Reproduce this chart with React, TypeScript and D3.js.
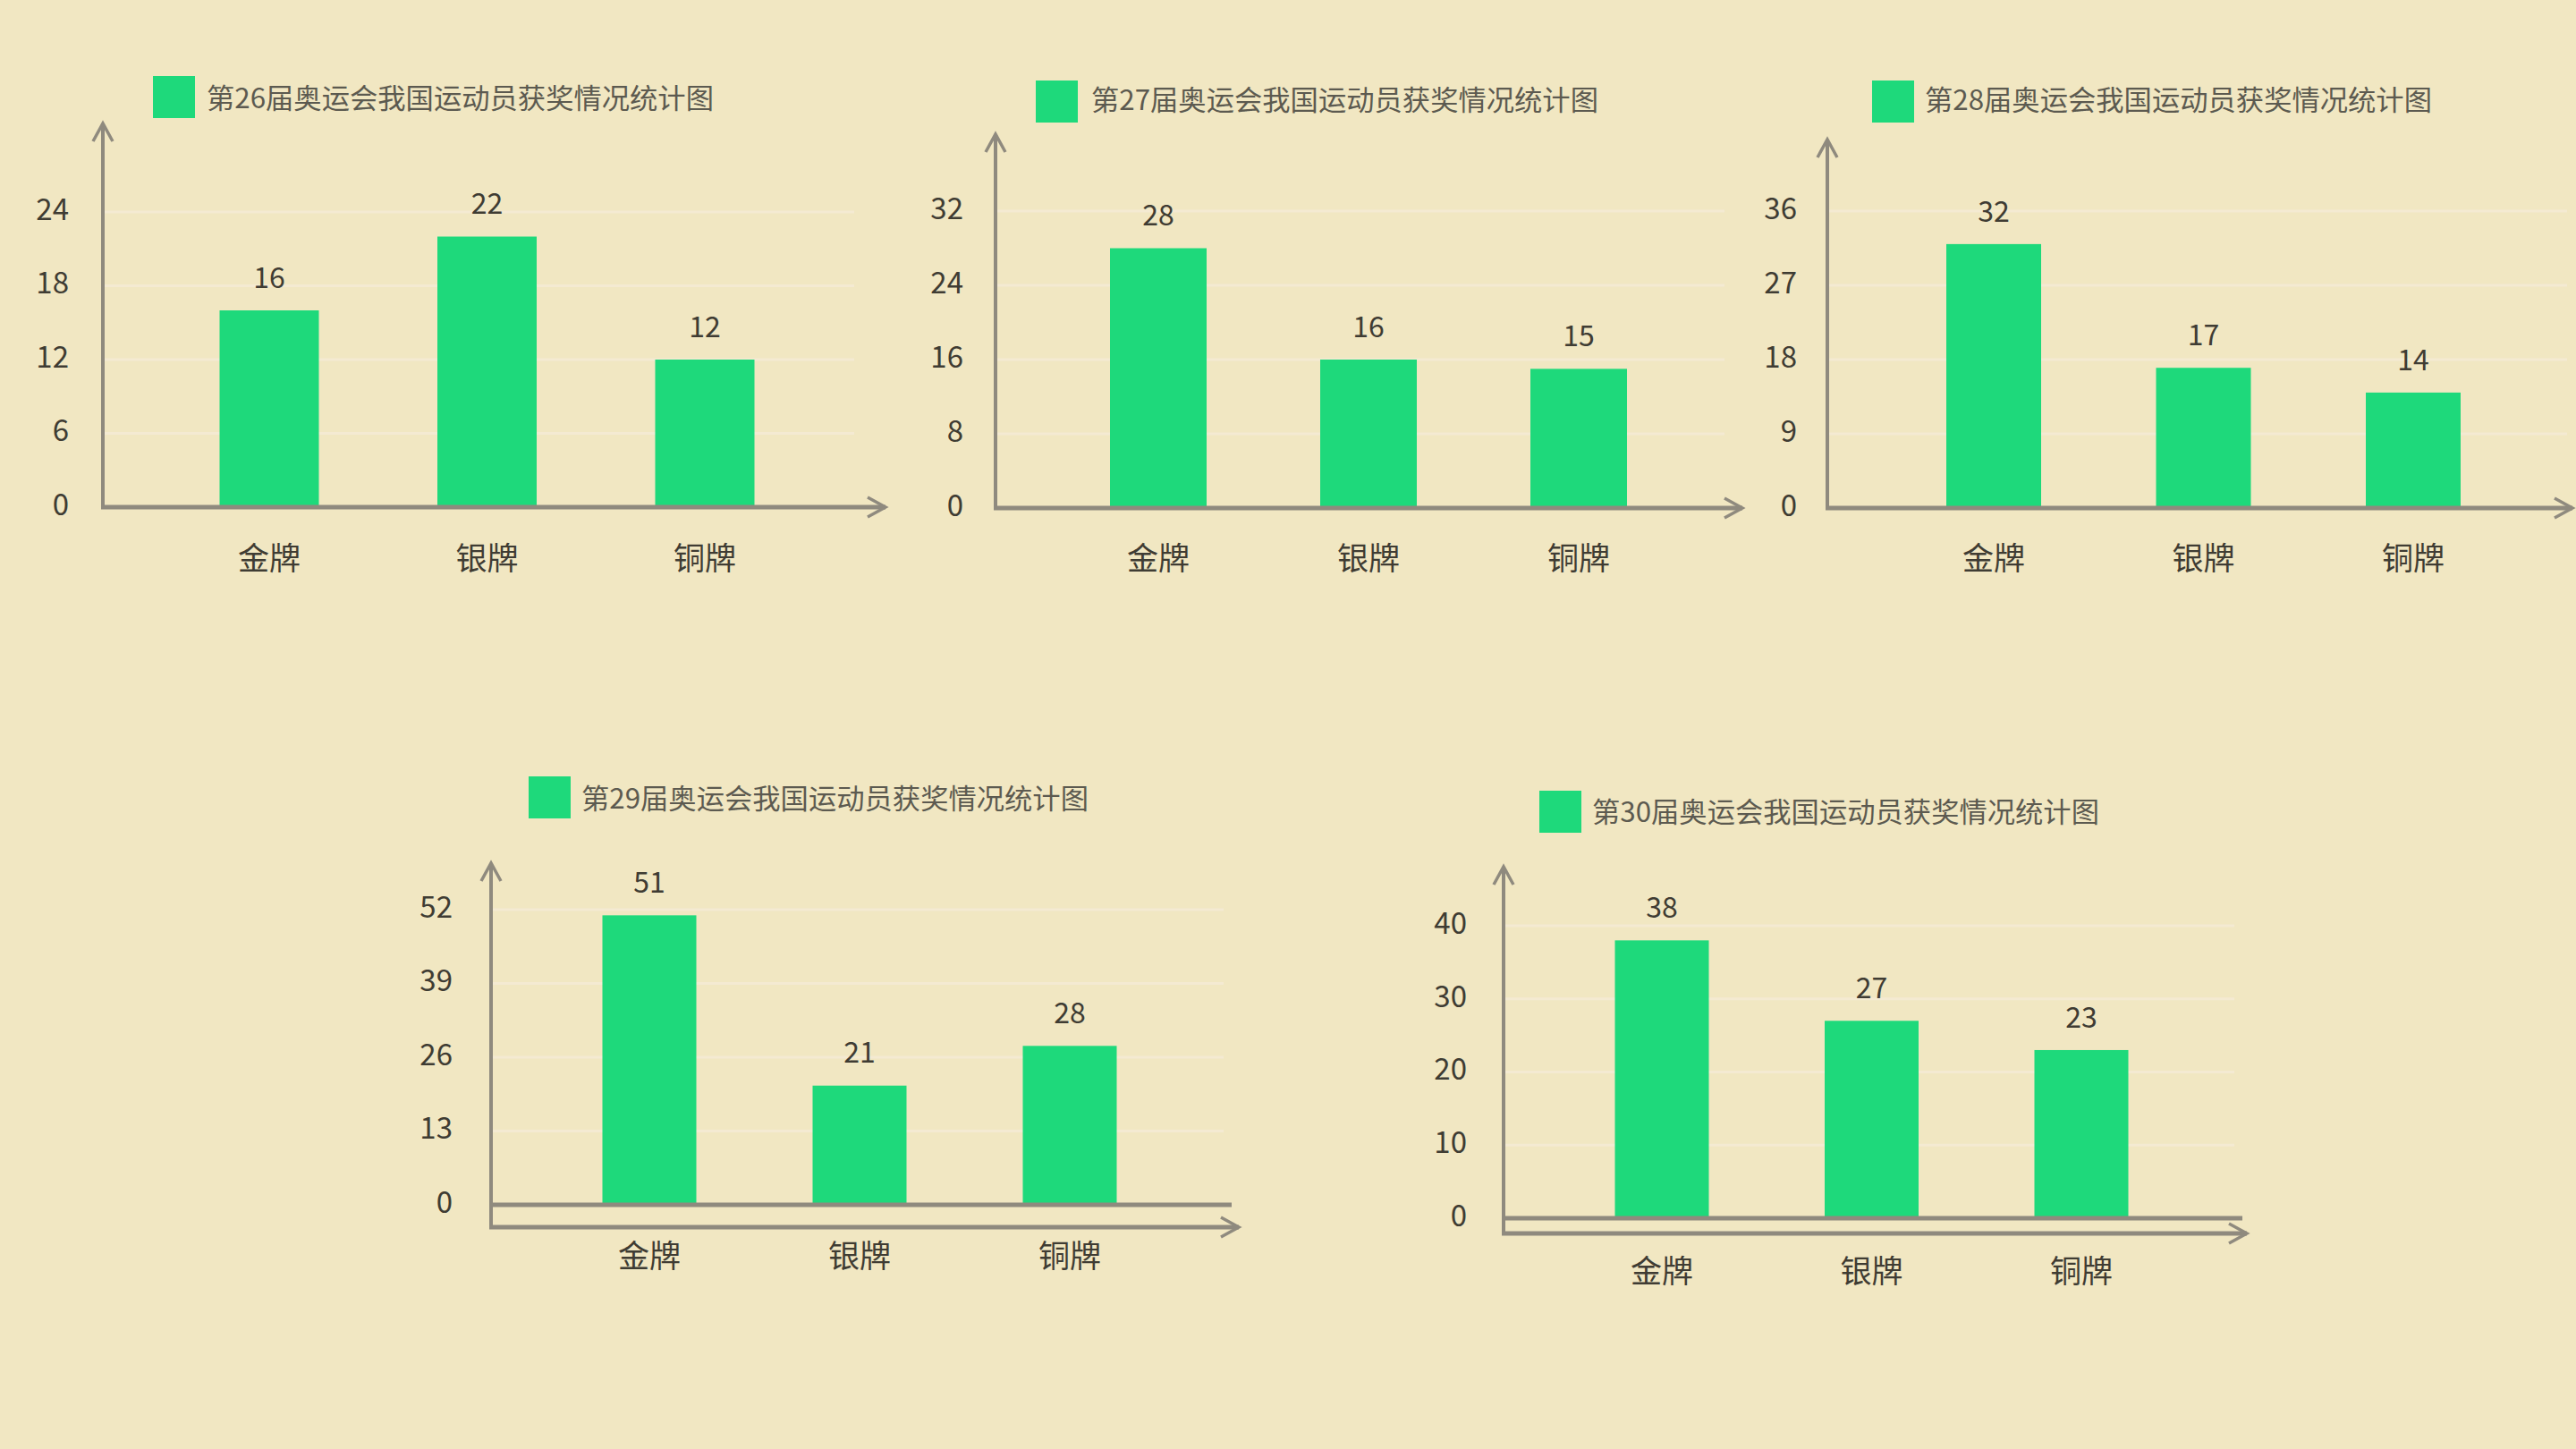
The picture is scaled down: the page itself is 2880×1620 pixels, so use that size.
import React from "react";
import * as d3 from "d3";

const categories = ["金牌", "银牌", "铜牌"];
const titles = [
  "第26届奥运会我国运动员获奖情况统计图",
  "第27届奥运会我国运动员获奖情况统计图",
  "第28届奥运会我国运动员获奖情况统计图",
  "第29届奥运会我国运动员获奖情况统计图",
  "第30届奥运会我国运动员获奖情况统计图",
];
const goldValues = [16, 28, 32, 51, 38];
const silverValues = [22, 16, 17, 21, 27];
const bronzeValues = [12, 15, 14, 28, 23];
const yTickValues = [
  [0, 6, 12, 18, 24],
  [0, 8, 16, 24, 32],
  [0, 9, 18, 27, 36],
  [0, 13, 26, 39, 52],
  [0, 10, 20, 30, 40],
];

// layout (pixel positions per panel)
const layouts = [
  { axisX: 115, zeroY: 567, maxTickY: 237, arrowTop: 138, arrowLineY: 567, xEnd: 990, baseEnd: 0, c0: 301, c1: 788, barW: 111, sqX: 171, sqY: 85, txtX: 231, txtY: 113, gridEnd: 955, tickRight: 77, catY: 627 },
  { axisX: 1113, zeroY: 568, maxTickY: 236, arrowTop: 150, arrowLineY: 568, xEnd: 1948, baseEnd: 0, c0: 1295, c1: 1765, barW: 108, sqX: 1158, sqY: 90, txtX: 1220, txtY: 115, gridEnd: 1928, tickRight: 1077, catY: 627 },
  { axisX: 2043, zeroY: 568, maxTickY: 236, arrowTop: 156, arrowLineY: 568, xEnd: 2876, baseEnd: 0, c0: 2229, c1: 2698, barW: 106, sqX: 2093, sqY: 90, txtX: 2152, txtY: 115, gridEnd: 2870, tickRight: 2009, catY: 627 },
  { axisX: 549, zeroY: 1347, maxTickY: 1017, arrowTop: 965, arrowLineY: 1372, xEnd: 1385, baseEnd: 1377, c0: 726, c1: 1196, barW: 105, sqX: 591, sqY: 868, txtX: 650, txtY: 896, gridEnd: 1368, tickRight: 506, catY: 1407 },
  { axisX: 1681, zeroY: 1362, maxTickY: 1035, arrowTop: 969, arrowLineY: 1379, xEnd: 2512, baseEnd: 2507, c0: 1858, c1: 2327, barW: 105, sqX: 1721, sqY: 884, txtX: 1780, txtY: 911, gridEnd: 2498, tickRight: 1640, catY: 1424 },
];

const BG = "#F1E7C2";
const GREEN = "#1ED97B";
const AXIS = "#8f8a7e";
const TEXT = "#3f3c33";
const LEGEND_TEXT = "#5c5a50";
const FONT = "'Noto Sans CJK SC', 'Noto Sans', sans-serif";

function Panel({ i }: { i: number }) {
  const L = layouts[i];
  const ticks = yTickValues[i];
  const values = [goldValues[i], silverValues[i], bronzeValues[i]];
  const y = d3.scaleLinear().domain([0, ticks[ticks.length - 1]]).range([L.zeroY, L.maxTickY]);
  const x = d3.scalePoint<string>().domain(categories).range([L.c0, L.c1]);
  const separate = L.arrowLineY !== L.zeroY;
  const arm = 11;
  const armH = 20;
  return (
    <g>
      {ticks.slice(1).map((t) => (
        <line key={"g" + t} x1={L.axisX} x2={L.gridEnd} y1={y(t)} y2={y(t)} stroke="#f4ead2" strokeWidth={3} />
      ))}
      {categories.map((c, k) => (
        <rect key={c} x={(x(c) as number) - L.barW / 2} y={y(values[k])} width={L.barW} height={L.zeroY - y(values[k])} fill={GREEN} />
      ))}
      {categories.map((c, k) => (
        <text key={"v" + c} x={x(c)} y={y(values[k]) - 34} textAnchor="middle" dominantBaseline="middle" fontSize={32} fill={TEXT} fontFamily={FONT}>
          {values[k]}
        </text>
      ))}
      {separate && (
        <line x1={L.axisX} x2={L.baseEnd} y1={L.zeroY} y2={L.zeroY} stroke={AXIS} strokeWidth={5} />
      )}
      <line x1={L.axisX} x2={L.axisX} y1={L.arrowLineY + 2} y2={L.arrowTop} stroke={AXIS} strokeWidth={4} />
      <polyline points={`${L.axisX - arm},${L.arrowTop + armH} ${L.axisX},${L.arrowTop} ${L.axisX + arm},${L.arrowTop + armH}`} fill="none" stroke={AXIS} strokeWidth={3.5} />
      <line x1={L.axisX - 2} x2={L.xEnd} y1={L.arrowLineY} y2={L.arrowLineY} stroke={AXIS} strokeWidth={5} />
      <polyline points={`${L.xEnd - armH},${L.arrowLineY - arm} ${L.xEnd},${L.arrowLineY} ${L.xEnd - armH},${L.arrowLineY + arm}`} fill="none" stroke={AXIS} strokeWidth={3.5} />
      {ticks.map((t) => (
        <text key={"t" + t} x={L.tickRight} y={y(t)} textAnchor="end" dominantBaseline="middle" fontSize={33} fill={TEXT} fontFamily={FONT}>
          {t}
        </text>
      ))}
      {categories.map((c) => (
        <text key={"c" + c} x={x(c)} y={L.catY} textAnchor="middle" dominantBaseline="middle" fontSize={35} fill={TEXT} fontFamily={FONT}>
          {c}
        </text>
      ))}
      <rect x={L.sqX} y={L.sqY} width={47} height={47} fill={GREEN} />
      <text x={L.txtX} y={L.txtY} dominantBaseline="middle" fontSize={31} fill={LEGEND_TEXT} fontFamily={FONT} textLength={567} lengthAdjust="spacingAndGlyphs">
        {titles[i]}
      </text>
    </g>
  );
}

export default function App() {
  return (
    <svg width={2880} height={1620} style={{ position: "absolute", left: 0, top: 0, display: "block" }}>
      <rect x={0} y={0} width={2880} height={1620} fill={BG} />
      {layouts.map((_, i) => (
        <Panel key={i} i={i} />
      ))}
    </svg>
  );
}
